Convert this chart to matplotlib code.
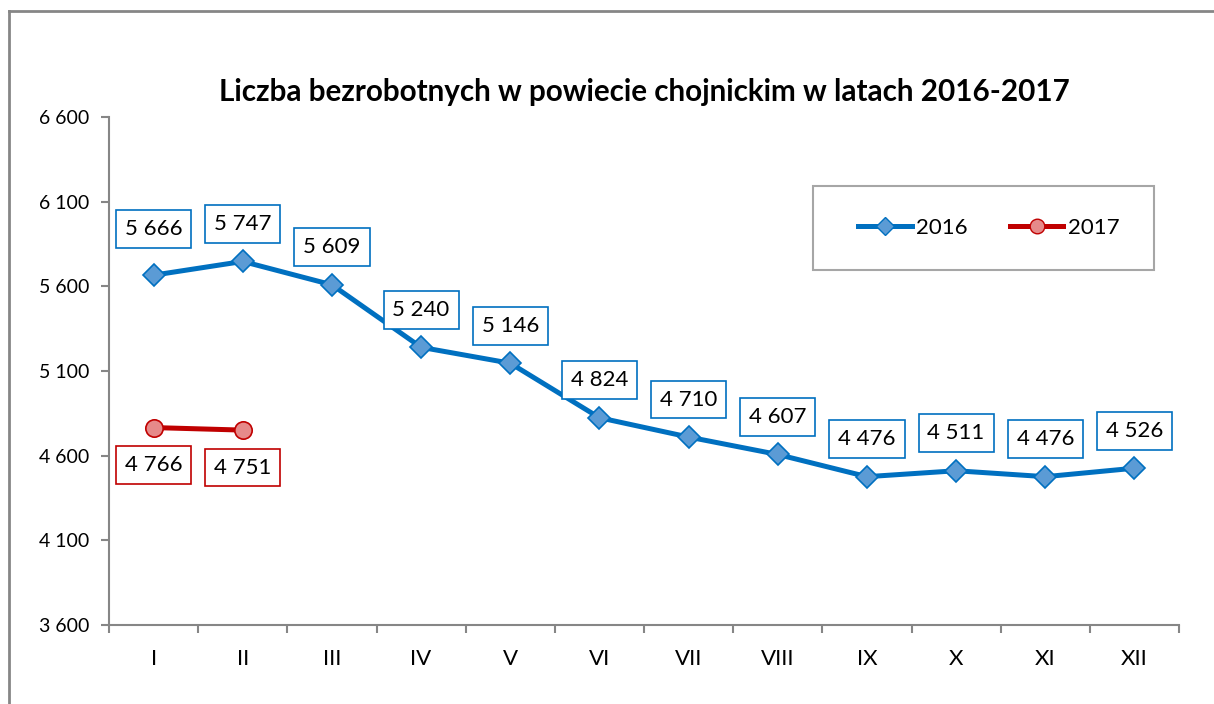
import numpy as np
import matplotlib.pyplot as plt
from matplotlib.lines import Line2D
from matplotlib.patches import Rectangle

# Dane
miesiace = ['I', 'II', 'III', 'IV', 'V', 'VI', 'VII', 'VIII', 'IX', 'X', 'XI', 'XII']
bezrobotni_2016 = [5666, 5747, 5609, 5240, 5146, 4824, 4710, 4607, 4476, 4511, 4476, 4526]
bezrobotni_2017 = [4766, 4751]
y_ticks = [3600, 4100, 4600, 5100, 5600, 6100, 6600]

niebieski = '#0070C0'
czerwony = '#C00000'
szary = '#868686'

plt.rcParams['font.family'] = ['Lato', 'DejaVu Sans']

fig = plt.figure(figsize=(12.14, 7.04), dpi=100)
ax = fig.add_axes([0.0898, 0.1122, 0.8814, 0.7216])

x16 = np.arange(len(bezrobotni_2016))
x17 = np.arange(len(bezrobotni_2017))

ax.plot(x16, bezrobotni_2016, color=niebieski, lw=3.6, marker='D', markersize=11,
        markerfacecolor='#5B9BD5', markeredgecolor=niebieski, markeredgewidth=1.2,
        solid_capstyle='round', zorder=3)
ax.plot(x17, bezrobotni_2017, color=czerwony, lw=3.6, marker='o', markersize=12.5,
        markerfacecolor='#E68A8A', markeredgecolor=czerwony, markeredgewidth=1.2,
        solid_capstyle='round', zorder=3)


def fmt(v):
    return f'{v:,}'.replace(',', ' ')


# Etykiety danych
for xi, v in zip(x16, bezrobotni_2016):
    dy = 33 if xi == 0 else 27
    ax.annotate(fmt(v), (xi, v), xytext=(0, dy), textcoords='offset points',
                ha='center', va='center', fontsize=16, zorder=5,
                bbox=dict(boxstyle='square,pad=0.4', fc='white', ec=niebieski, lw=1.2))
for xi, v in zip(x17, bezrobotni_2017):
    ax.annotate(fmt(v), (xi, v), xytext=(0, -27), textcoords='offset points',
                ha='center', va='center', fontsize=16, zorder=5,
                bbox=dict(boxstyle='square,pad=0.4', fc='white', ec=czerwony, lw=1.2))

ax.set_xlim(-0.5, len(miesiace) - 0.5)
ax.set_ylim(3600, 6600)
ax.set_yticks(y_ticks)
ax.set_yticklabels([fmt(t) for t in y_ticks], fontsize=14)
ax.set_xticks(x16)
ax.set_xticklabels(miesiace, fontsize=16)
ax.set_xticks(np.arange(-0.5, len(miesiace)), minor=True)
ax.tick_params(axis='x', which='major', length=0, pad=17)
ax.tick_params(axis='x', which='minor', length=6, width=1.5, color=szary)
ax.tick_params(axis='y', length=6, width=1.5, color=szary, pad=8)

for s in ['top', 'right']:
    ax.spines[s].set_visible(False)
for s in ['left', 'bottom']:
    ax.spines[s].set_color(szary)
    ax.spines[s].set_linewidth(1.5)

fig.text(0.531, 0.869, 'Liczba bezrobotnych w powiecie chojnickim w latach 2016-2017',
         ha='center', va='center', fontsize=21.3, fontweight='bold')

# Legenda
fig.patches.append(Rectangle((0.6697, 0.6165), 0.2809, 0.1193, transform=fig.transFigure,
                             fill=False, ec='#A6A6A6', lw=1.5))
uchwyty = [
    Line2D([], [], color=niebieski, lw=3.6, marker='D', markersize=9,
           markerfacecolor='#5B9BD5', markeredgecolor=niebieski),
    Line2D([], [], color=czerwony, lw=3.6, marker='o', markersize=10.5,
           markerfacecolor='#E68A8A', markeredgecolor=czerwony),
]
fig.legend(uchwyty, ['2016', '2017'], loc='center', bbox_to_anchor=(0.8145, 0.676),
           ncol=2, frameon=False, fontsize=16, handlelength=2.4, handletextpad=0.2,
           columnspacing=1.9)

# Ramka wykresu
fig.add_artist(Line2D([0.0074, 0.0074], [0.0, 0.984], transform=fig.transFigure,
                      color=szary, lw=2))
fig.add_artist(Line2D([0.0074, 1.0], [0.984, 0.984], transform=fig.transFigure,
                      color=szary, lw=2))

fig.savefig('out.png', dpi=100)
